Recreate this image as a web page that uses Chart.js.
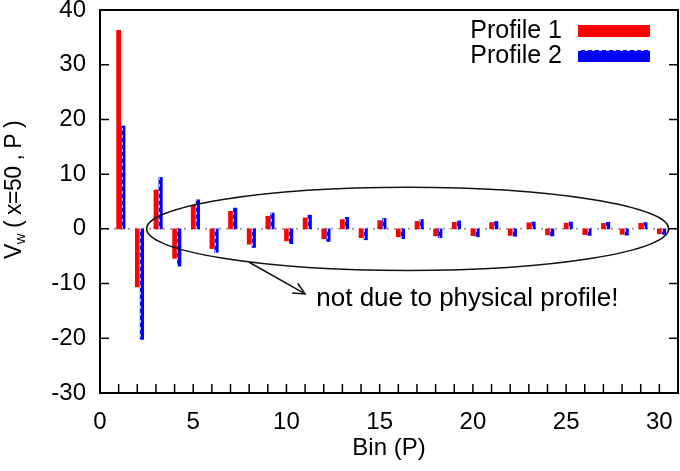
<!DOCTYPE html>
<html>
<head>
<meta charset="utf-8">
<script src="https://cdn.jsdelivr.net/npm/chart.js@4.4.1/dist/chart.umd.min.js"></script>
<style>
  html, body { margin: 0; padding: 0; background: #fff; }
  #wrap { width: 680px; height: 471px; }
</style>
</head>
<body>
<div id="wrap"><canvas id="chart"></canvas></div>
<script>
// Data
const bins = [1, 2, 3, 4, 5, 6, 7, 8, 9, 10, 11, 12, 13, 14, 15,
              16, 17, 18, 19, 20, 21, 22, 23, 24, 25, 26, 27, 28, 29, 30];
const profile1 = [36.3, -10.6, 7.1, -5.4, 4.3, -3.6, 3.2, -2.8, 2.3, -2.2,
                  2.0, -1.8, 1.7, -1.6, 1.5, -1.45, 1.35, -1.3, 1.2, -1.25,
                  1.15, -1.2, 1.1, -1.1, 1.05, -1.05, 1.0, -1.0, 1.0, -0.9];
const profile2 = [18.8, -20.2, 9.4, -6.8, 5.3, -4.3, 3.8, -3.4, 2.9, -2.7,
                  2.5, -2.3, 2.1, -2.0, 1.9, -1.8, 1.7, -1.6, 1.45, -1.45,
                  1.35, -1.35, 1.25, -1.3, 1.25, -1.2, 1.2, -1.15, 1.15, -1.0];
const seriesNames = ['Profile 1', 'Profile 2'];
const seriesColors = ['#ff0000', '#0000ff'];
const xTickLabels = [0, 5, 10, 15, 20, 25, 30];
const yTickLabels = [-30, -20, -10, 0, 10, 20, 30, 40];

// annotation (data coordinates)
const noteEllipse = { cx: 16.5, cy: 0, rx: 14, ry: 7.6 };
const noteArrow = { x1: 8.0, y1: -6.1, x2: 11.0, y2: -11.9 };
const noteText = { x: 11.6, y: -12.7, text: 'not due to physical profile!' };

const FONT = "'Liberation Sans', Arial, sans-serif";
const FONT_SIZE = 24;

const toPoints = (xs, ys) => xs.map((x, i) => ({ x: x, y: ys[i] }));

/* -------------------------------------
   gnuplot-like frame, ticks, zero axis, legend, labels
------------------------------------- */
const framePlugin = {
    id: 'frame',
    beforeDatasetsDraw(chart) {
        const { ctx, chartArea: a, scales } = chart;
        const y0 = scales.y.getPixelForValue(0);
        ctx.save();
        ctx.strokeStyle = '#a0a0a0';
        ctx.lineWidth = 2;
        ctx.setLineDash([2, 5]);
        ctx.beginPath();
        ctx.moveTo(a.left, y0);
        ctx.lineTo(a.right, y0);
        ctx.stroke();
        ctx.restore();
    },
    afterDatasetsDraw(chart) {
        const { ctx, chartArea: a, scales } = chart;
        const xs = scales.x, ys = scales.y;

        // dashed look of the blue impulses
        const meta = chart.getDatasetMeta(1);
        ctx.save();
        ctx.strokeStyle = 'rgba(255,255,255,0.75)';
        ctx.lineWidth = 1;
        ctx.setLineDash([3, 4]);
        meta.data.forEach(bar => {
            const px = Math.round(bar.x - bar.width / 2) + 0.5;
            ctx.beginPath();
            ctx.moveTo(px, bar.base);
            ctx.lineTo(px, bar.y);
            ctx.stroke();
        });
        ctx.restore();

        // frame
        ctx.save();
        ctx.strokeStyle = '#000';
        ctx.lineWidth = 2;
        ctx.strokeRect(a.left, a.top, a.right - a.left, a.bottom - a.top);

        // ticks (inward; y mirrored on the right, x only at the bottom)
        ctx.lineWidth = 1.5;
        ctx.beginPath();
        yTickLabels.forEach(v => {
            const py = ys.getPixelForValue(v);
            ctx.moveTo(a.left, py); ctx.lineTo(a.left + 9, py);
            ctx.moveTo(a.right, py); ctx.lineTo(a.right - 9, py);
        });
        for (let v = 0; v <= 31; v++) {
            const px = xs.getPixelForValue(v);
            ctx.moveTo(px, a.bottom); ctx.lineTo(px, a.bottom - 9);
        }
        ctx.stroke();

        // ellipse + arrow + note
        const cx = xs.getPixelForValue(noteEllipse.cx);
        const cy = ys.getPixelForValue(noteEllipse.cy);
        const rx = xs.getPixelForValue(noteEllipse.cx + noteEllipse.rx) - cx;
        const ry = cy - ys.getPixelForValue(noteEllipse.cy + noteEllipse.ry);
        ctx.lineWidth = 1.5;
        ctx.strokeStyle = '#111';
        ctx.beginPath();
        ctx.ellipse(cx, cy, rx, ry, 0, 0, Math.PI * 2);
        ctx.stroke();

        const ax1 = xs.getPixelForValue(noteArrow.x1), ay1 = ys.getPixelForValue(noteArrow.y1);
        const ax2 = xs.getPixelForValue(noteArrow.x2), ay2 = ys.getPixelForValue(noteArrow.y2);
        const ang = Math.atan2(ay2 - ay1, ax2 - ax1);
        const head = 13, spread = 0.45;
        ctx.beginPath();
        ctx.moveTo(ax1, ay1); ctx.lineTo(ax2, ay2);
        ctx.moveTo(ax2 - head * Math.cos(ang - spread), ay2 - head * Math.sin(ang - spread));
        ctx.lineTo(ax2, ay2);
        ctx.lineTo(ax2 - head * Math.cos(ang + spread), ay2 - head * Math.sin(ang + spread));
        ctx.stroke();

        ctx.fillStyle = '#000';
        ctx.font = '26px ' + FONT;
        ctx.textBaseline = 'middle';
        ctx.textAlign = 'left';
        ctx.fillText(noteText.text, xs.getPixelForValue(noteText.x), ys.getPixelForValue(noteText.y));

        // legend (text before sample, like gnuplot)
        ctx.font = '25px ' + FONT;
        seriesNames.forEach((name, i) => {
            const ly = 31 + 25 * i;
            ctx.textAlign = 'right';
            ctx.fillStyle = '#000';
            ctx.fillText(name, 562, ly);
            ctx.fillStyle = seriesColors[i];
            ctx.fillRect(578, ly - 6, 72, 12);
        });
        ctx.strokeStyle = 'rgba(255,255,255,0.8)';
        ctx.lineWidth = 1;
        ctx.setLineDash([3, 4]);
        ctx.beginPath();
        ctx.moveTo(578, 31 + 25 - 5.5); ctx.lineTo(650, 31 + 25 - 5.5);
        ctx.stroke();
        ctx.setLineDash([]);

        // y axis title with subscript
        ctx.fillStyle = '#000';
        ctx.translate(15, 190);
        ctx.rotate(-Math.PI / 2);
        ctx.letterSpacing = '-0.5px';
        const big = '23px ' + FONT, small = '15px ' + FONT;
        ctx.font = big;
        const wV = ctx.measureText('V').width;
        const rest = ' ( x=50 , P )';
        const wRest = ctx.measureText(rest).width;
        ctx.font = small;
        const wSub = ctx.measureText('w').width;
        let tx = -(wV + wSub + wRest) / 2;
        ctx.textAlign = 'left';
        ctx.font = big;
        ctx.fillText('V', tx, 0);
        tx += wV;
        ctx.font = small;
        ctx.fillText('w', tx, 6);
        tx += wSub;
        ctx.font = big;
        ctx.fillText(rest, tx, 0);
        ctx.restore();
    }
};

const ctxChart = document.getElementById('chart').getContext('2d');

new Chart(ctxChart, {
    type: 'bar',
    data: {
        datasets: [{
            label: seriesNames[0],
            data: toPoints(bins, profile1),
            backgroundColor: seriesColors[0],
            barThickness: 4,
            xAxisID: 'x'
        }, {
            label: seriesNames[1],
            data: toPoints(bins, profile2),
            backgroundColor: seriesColors[1],
            barThickness: 3.5,
            xAxisID: 'x2'   // gnuplot draws the 2nd impulses a quarter bin to the right
        }]
    },
    options: {
        responsive: true,
        maintainAspectRatio: false,
        animation: false,
        devicePixelRatio: 1,
        grouped: false,
        layout: { padding: { top: 10, right: 2, left: 0, bottom: 0 } },
        plugins: {
            legend: { display: false },
            tooltip: { enabled: false }
        },
        scales: {
            x: {
                type: 'linear',
                min: 0,
                max: 31,
                offset: false,
                grid: { display: false, drawTicks: false, offset: false },
                border: { display: false },
                ticks: {
                    stepSize: 1,
                    autoSkip: false,
                    maxRotation: 0,
                    padding: 15,
                    color: '#000',
                    font: { family: FONT, size: FONT_SIZE },
                    callback: v => xTickLabels.includes(v) ? String(v) : ''
                },
                title: {
                    display: true,
                    text: 'Bin (P)',
                    color: '#000',
                    font: { family: FONT, size: FONT_SIZE },
                    padding: { top: 4, bottom: 8 }
                },
                afterFit: s => { s.height = 78; s.paddingLeft = 0; s.paddingRight = 0; }
            },
            x2: {
                type: 'linear',
                display: false,
                min: -0.25,
                max: 30.75,
                offset: false,
                grid: { offset: false }
            },
            y: {
                min: -30,
                max: 40,
                grid: { display: false, drawTicks: false },
                border: { display: false },
                ticks: {
                    stepSize: 10,
                    padding: 14,
                    color: '#000',
                    font: { family: FONT, size: FONT_SIZE }
                },
                afterFit: s => { s.width = 100; s.paddingTop = 0; s.paddingBottom = 0; }
            }
        }
    },
    plugins: [framePlugin]
});
</script>
</body>
</html>
